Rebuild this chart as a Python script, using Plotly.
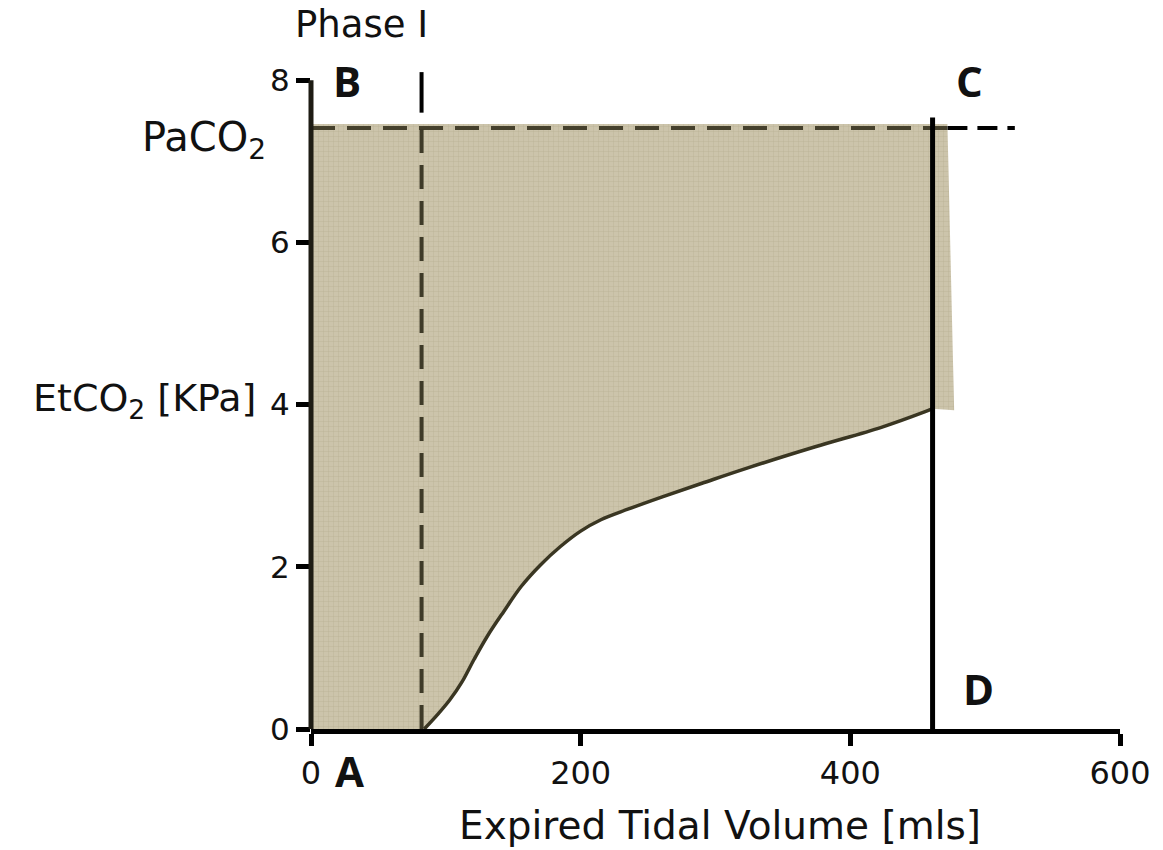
import plotly.graph_objects as go

# Capnogram: expired CO2 against expired tidal volume
curve_x = [84, 94, 103, 112, 121, 131, 143, 156, 170, 185, 200, 215, 235, 260, 290, 324, 374, 423, 455, 461]
curve_y = [0.0, 0.18, 0.36, 0.58, 0.86, 1.15, 1.45, 1.76, 2.02, 2.25, 2.44, 2.58, 2.71, 2.86, 3.03, 3.22, 3.48, 3.72, 3.91, 3.95]

paco2 = 7.41          # arterial CO2 level (kPa)
phase1_end = 82       # end of phase I (ml)
expiration_end = 461  # end of expiration (ml)
shade_top = 7.46
shade_right = [472, 477]
dash_end = 522
plateau_top = 7.54

x_ticks = [0, 200, 400, 600]
y_ticks = [0, 2, 4, 6, 8]

X_RANGE = [0, 600]
Y_RANGE = [0, 8.2]

FONT = "DejaVu Sans"
BOLD_FONT = "Open Sans"
fill_col = "#ccc4ab"
olive = "#3a3622"

fig = go.Figure()

# shaded area between the PaCO2 level and the capnogram
poly_x = [0, 0] + curve_x + [shade_right[1], shade_right[0], 0]
poly_y = [shade_top, 0] + curve_y + [curve_y[-1] - 0.02, shade_top, shade_top]
fig.add_trace(go.Scatter(
    x=poly_x, y=poly_y, mode="lines", fill="toself",
    fillcolor=fill_col, line=dict(width=0, color=fill_col),
    fillpattern=dict(shape="+", size=5, solidity=0.15,
                     fgcolor="#bab095", bgcolor=fill_col, fillmode="replace"),
    hoverinfo="skip", showlegend=False))

# the capnogram curve
fig.add_trace(go.Scatter(
    x=curve_x, y=curve_y, mode="lines",
    line=dict(color=olive, width=3.5, shape="spline", smoothing=1.0),
    hoverinfo="skip", showlegend=False))

dash = "24px,12px"
# PaCO2 level, darker over the shaded area, black outside it
fig.add_trace(go.Scatter(
    x=[0, shade_right[0]], y=[paco2, paco2], mode="lines",
    line=dict(color="#45402c", width=4, dash=dash),
    hoverinfo="skip", showlegend=False))
fig.add_trace(go.Scatter(
    x=[shade_right[0], dash_end], y=[paco2, paco2], mode="lines",
    line=dict(color="black", width=4, dash="20px,10px"),
    hoverinfo="skip", showlegend=False))

# end of phase I
fig.add_trace(go.Scatter(
    x=[phase1_end, phase1_end], y=[0, shade_top], mode="lines",
    line=dict(color="#3e3a28", width=4, dash=dash),
    hoverinfo="skip", showlegend=False))
fig.add_trace(go.Scatter(
    x=[phase1_end, phase1_end], y=[7.6, 8.1], mode="lines",
    line=dict(color="black", width=4),
    hoverinfo="skip", showlegend=False))

# end of expiration
fig.add_trace(go.Scatter(
    x=[expiration_end, expiration_end], y=[0, plateau_top], mode="lines",
    line=dict(color="black", width=5),
    hoverinfo="skip", showlegend=False))

# y axis line stops at 8
fig.add_shape(type="line", xref="paper", yref="paper",
              x0=0, x1=0, y0=0, y1=8 / Y_RANGE[1],
              line=dict(color="#1e1c14", width=5), layer="above")

def px_to_paper(px, py):
    return (px - 311) / 812, (729 - py) / 665

def label(text, px, py, size=38, bold=False, xanchor="center"):
    x, y = px_to_paper(px, py)
    fig.add_annotation(
        x=x, y=y, xref="paper", yref="paper", text=text,
        showarrow=False, xanchor=xanchor, yanchor="middle",
        font=dict(family=BOLD_FONT if bold else FONT, size=size, color="#111",
                  weight="bold" if bold else "normal"))

label("Phase I", 362, 24, size=37)
label("PaCO<sub>2</sub>", 268, 140, size=40, xanchor="right")
label("EtCO<sub>2</sub> [KPa]", 258, 400, size=38, xanchor="right")
label("Expired Tidal Volume [mls]", 722, 826, size=39)
label("B", 347, 80, size=42, bold=True)
label("C", 972, 80, size=42, bold=True)
label("D", 981, 688, size=42, bold=True)
label("A", 350, 770, size=42, bold=True)

fig.update_layout(
    width=1163, height=850,
    margin=dict(l=311, r=40, t=64, b=121),
    paper_bgcolor="white", plot_bgcolor="white",
    showlegend=False,
    xaxis=dict(range=X_RANGE, tickvals=x_ticks, ticktext=[str(v) for v in x_ticks],
               showgrid=False, zeroline=False, showline=True, linecolor="black",
               linewidth=5, ticks="outside", ticklen=12, tickwidth=5, tickcolor="black",
               tickfont=dict(family=FONT, size=32, color="#111")),
    yaxis=dict(range=Y_RANGE, tickvals=y_ticks, ticktext=[str(v) for v in y_ticks],
               showgrid=False, zeroline=False, showline=False,
               ticks="outside", ticklen=14, tickwidth=5, tickcolor="black",
               tickfont=dict(family=FONT, size=31, color="#111")),
)

fig.write_html("out.html")
